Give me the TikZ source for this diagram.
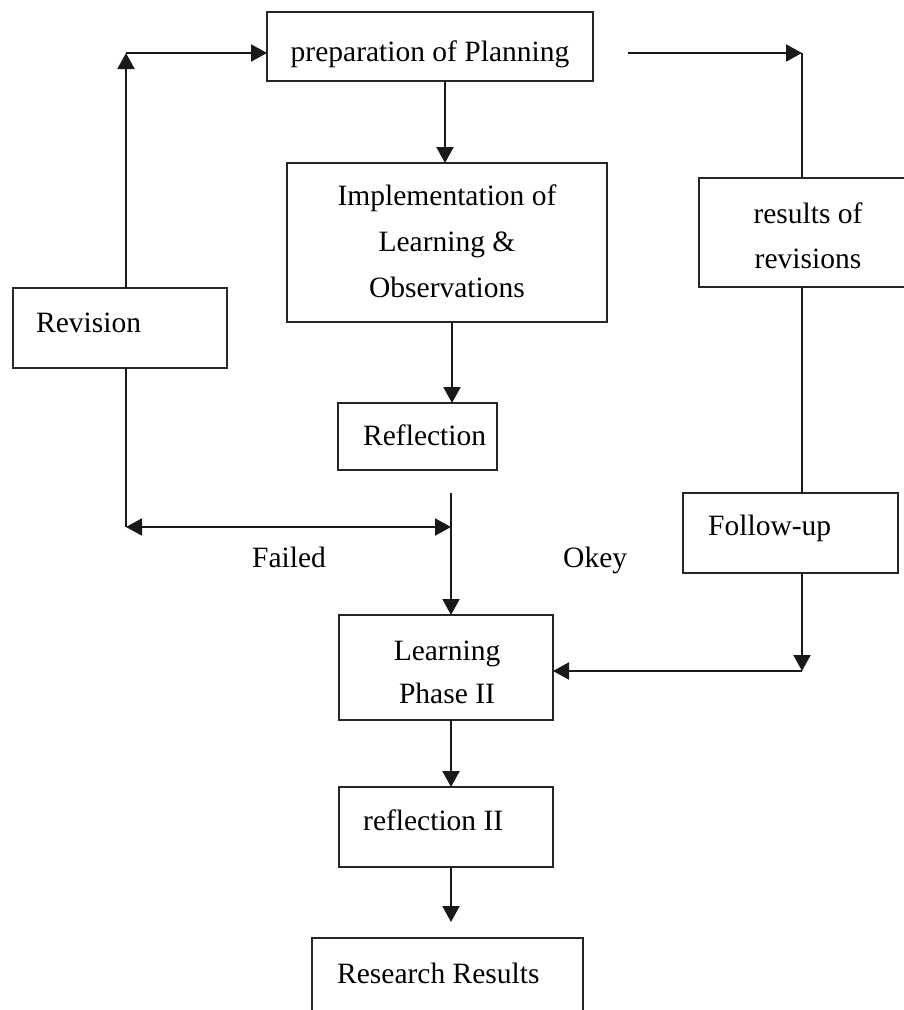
\documentclass[tikz,border=0pt]{standalone}
\usepackage{fontspec}
\setmainfont{Liberation Serif}
\usetikzlibrary{arrows.meta}
\begin{document}
\begin{tikzpicture}[x=1pt,y=-1pt,
  box/.style={draw=black!85,line width=2pt,rectangle,inner sep=0pt,outer sep=0pt},
  txt/.style={font=\fontsize{29.5}{35}\selectfont,inner sep=0pt},
  conn/.style={draw=black!90,line width=2pt},
  arr/.style={conn,-{Triangle[length=16pt,width=17pt]}},
  darr/.style={conn,{Triangle[length=16pt,width=17pt]}-{Triangle[length=16pt,width=17pt]}}]
\useasboundingbox (0,0) rectangle (904,1010);
\clip (0,0) rectangle (904,1010);
\fill[white] (0,0) rectangle (904,1010);
% boxes
\node[box,minimum width=326pt,minimum height=69pt] (plan) at (430,46.5) {};
\node[box,minimum width=320pt,minimum height=159pt] (impl) at (447,242.5) {};
\node[box,minimum width=159pt,minimum height=67pt] (refl) at (417.5,436.5) {};
\node[box,minimum width=214pt,minimum height=80pt] (rev) at (120,328) {};
\node[box,minimum width=216pt,minimum height=109pt] (res) at (807,232.5) {};
\node[box,minimum width=215pt,minimum height=80pt] (fol) at (790.5,533) {};
\node[box,minimum width=214pt,minimum height=105pt] (lp) at (446,667.5) {};
\node[box,minimum width=214pt,minimum height=80pt] (rf) at (446,827) {};
\node[box,minimum width=271pt,minimum height=102pt] (rr) at (447.5,989) {};
% texts
\node[txt,anchor=base] (tplan) at (430,61) {preparation of Planning};
\node[txt,anchor=base] (timpa) at (447,205) {Implementation of};
\node[txt,anchor=base] (timpb) at (447,251) {Learning \&};
\node[txt,anchor=base] (timpc) at (447,297) {Observations};
\node[txt,anchor=base west] (trefl) at (363,445) {Reflection};
\node[txt,anchor=base west] (trev) at (36,332) {Revision};
\node[txt,anchor=base] (tresa) at (808,223) {results of};
\node[txt,anchor=base] (tresb) at (808,268) {revisions};
\node[txt,anchor=base west] (tfol) at (708,535) {Follow-up};
\node[txt,anchor=base] (tlpa) at (447,660) {Learning};
\node[txt,anchor=base] (tlpb) at (447,703) {Phase II};
\node[txt,anchor=base west] (trf) at (363,830) {reflection II};
\node[txt,anchor=base west] (trr) at (337,983) {Research Results};
\node[txt,anchor=base west] (tfail) at (252,567) {Failed};
\node[txt,anchor=base west] (tok) at (563,567) {Okey};
% coordinates
\coordinate (revtop) at (126,288);
\coordinate (ltop) at (126,53);
\coordinate (revbot) at (126,368);
\coordinate (lbot) at (126,527);
\coordinate (mid) at (451,527);
\coordinate (midtop) at (451,493);
\coordinate (pr) at (628,53);
\coordinate (rtop) at (802,53);
\coordinate (fbot) at (802,671);
\coordinate (rfend) at (451,922);
% connectors
\draw[arr] (plan.south -| 445,0) -- (impl.north -| 445,0);
\draw[arr] (impl.south -| 452,0) -- (refl.north -| 452,0);
\draw[arr] (midtop) -- (lp.north -| midtop);
\draw[conn] (revbot) -- (lbot);
\draw[darr] (lbot) -- (mid);
\draw[arr] (revtop) -- (ltop);
\draw[arr] (ltop) -- (plan.west |- ltop);
\draw[arr] (pr) -- (rtop);
\draw[conn] (rtop) -- (res.north -| rtop);
\draw[conn] (res.south -| rtop) -- (fol.north -| rtop);
\draw[arr] (fol.south -| rtop) -- (fbot);
\draw[arr] (fbot) -- (lp.east |- fbot);
\draw[arr] (lp.south -| mid) -- (rf.north -| mid);
\draw[arr] (rf.south -| mid) -- (rfend);
\end{tikzpicture}
\end{document}
